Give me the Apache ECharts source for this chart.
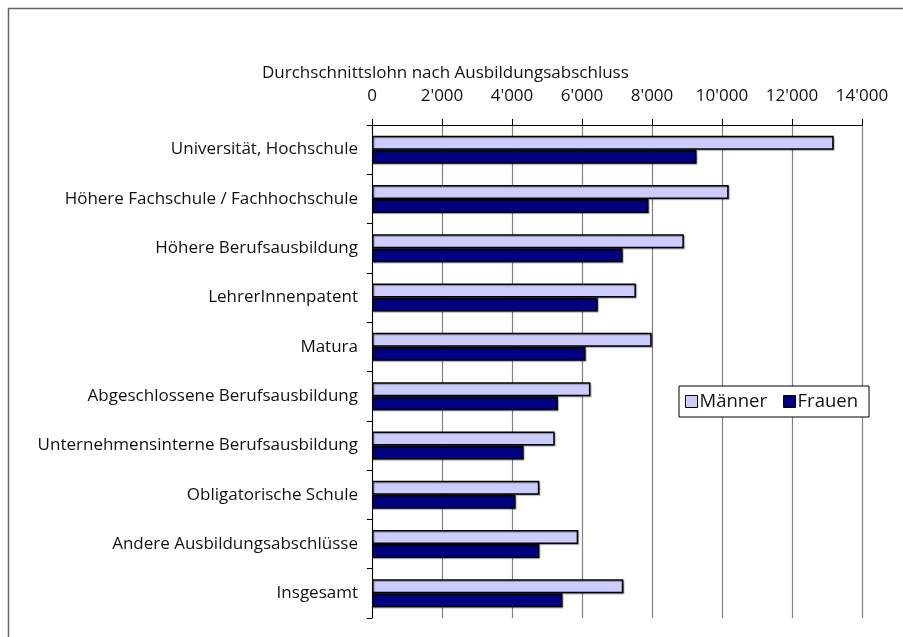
<!DOCTYPE html>
<html>
<head>
<meta charset="utf-8">
<script src="https://cdn.jsdelivr.net/npm/echarts@6/dist/echarts.min.js"></script>
<style>
  html, body { margin: 0; padding: 0; background: #fff; }
  #chart { width: 903px; height: 637px; }
</style>
</head>
<body>
<div id="chart"></div>
<script>
// Kategorien von oben nach unten
var categories = [
  'Universität, Hochschule',
  'Höhere Fachschule / Fachhochschule',
  'Höhere Berufsausbildung',
  'LehrerInnenpatent',
  'Matura',
  'Abgeschlossene Berufsausbildung',
  'Unternehmensinterne Berufsausbildung',
  'Obligatorische Schule',
  'Andere Ausbildungsabschlüsse',
  'Insgesamt'
];
var maenner = [13190, 10190, 8910, 7540, 7990, 6240, 5220, 4780, 5890, 7180];
var frauen = [9270, 7900, 7160, 6450, 6100, 5310, 4330, 4100, 4780, 5440];
var xTicks = [0, 2000, 4000, 6000, 8000, 10000, 12000, 14000];

var fontFamily = '"Open Sans", "Noto Sans", sans-serif';

function fmt(v) {
  // Tausendertrennzeichen mit Apostroph
  return String(v).replace(/\B(?=(\d{3})+(?!\d))/g, "'");
}

var chart = echarts.init(document.getElementById('chart'));
chart.setOption({
  animation: false,
  backgroundColor: '#fff',
  title: {
    text: 'Durchschnittslohn nach Ausbildungsabschluss',
    left: 257,
    top: 60,
    textStyle: { fontFamily: fontFamily, fontSize: 17, fontWeight: 'normal', color: '#111' }
  },
  graphic: [{
    type: 'rect',
    shape: { x: 8.5, y: 8.5, width: 1000, height: 1000 },
    style: { fill: 'none', stroke: '#666', lineWidth: 1.5 },
    silent: true
  }],
  legend: {
    left: 679,
    top: 386,
    itemWidth: 12,
    itemHeight: 12,
    itemGap: 16,
    padding: [6, 11, 6, 6],
    borderColor: '#000',
    borderWidth: 1,
    backgroundColor: '#fff',
    icon: 'rect',
    textStyle: { fontFamily: fontFamily, fontSize: 18.5, color: '#111', padding: [0, 0, 0, -3] },
    data: [
      { name: 'Männer', itemStyle: { borderColor: '#000', borderWidth: 1 } },
      { name: 'Frauen', itemStyle: { borderColor: '#000', borderWidth: 1 } }
    ]
  },
  grid: { left: 372, right: 41, top: 125, bottom: 19 },
  xAxis: {
    type: 'value',
    position: 'top',
    min: 0,
    max: 14000,
    interval: 2000,
    axisLine: { show: true, lineStyle: { color: '#000', width: 1 } },
    axisTick: { show: true, length: 6, lineStyle: { color: '#000' } },
    splitLine: { show: true, lineStyle: { color: '#808080', width: 1.2 } },
    axisLabel: {
      margin: 20,
      fontFamily: fontFamily,
      fontSize: 17,
      color: '#111',
      formatter: function (v) { return xTicks.indexOf(v) >= 0 ? fmt(v) : ''; }
    }
  },
  yAxis: {
    type: 'category',
    inverse: true,
    data: categories,
    axisLine: { show: true, lineStyle: { color: '#000', width: 1 } },
    axisTick: { show: true, length: 5, lineStyle: { color: '#000' } },
    axisLabel: { margin: 14, fontFamily: fontFamily, fontSize: 17, color: '#111' }
  },
  series: [
    {
      name: 'Männer',
      type: 'bar',
      data: maenner,
      barWidth: 14,
      barGap: '0%',
      itemStyle: {
        color: '#CCCCFF', borderColor: '#000', borderWidth: 1.5,
        shadowColor: 'rgba(0,0,0,0.35)', shadowOffsetX: 1, shadowOffsetY: 1, shadowBlur: 1
      }
    },
    {
      name: 'Frauen',
      type: 'bar',
      data: frauen,
      barWidth: 14,
      itemStyle: {
        color: '#000080', borderColor: '#000', borderWidth: 1.5,
        shadowColor: 'rgba(0,0,0,0.35)', shadowOffsetX: 1, shadowOffsetY: 1, shadowBlur: 1
      }
    }
  ]
});
</script>
</body>
</html>
